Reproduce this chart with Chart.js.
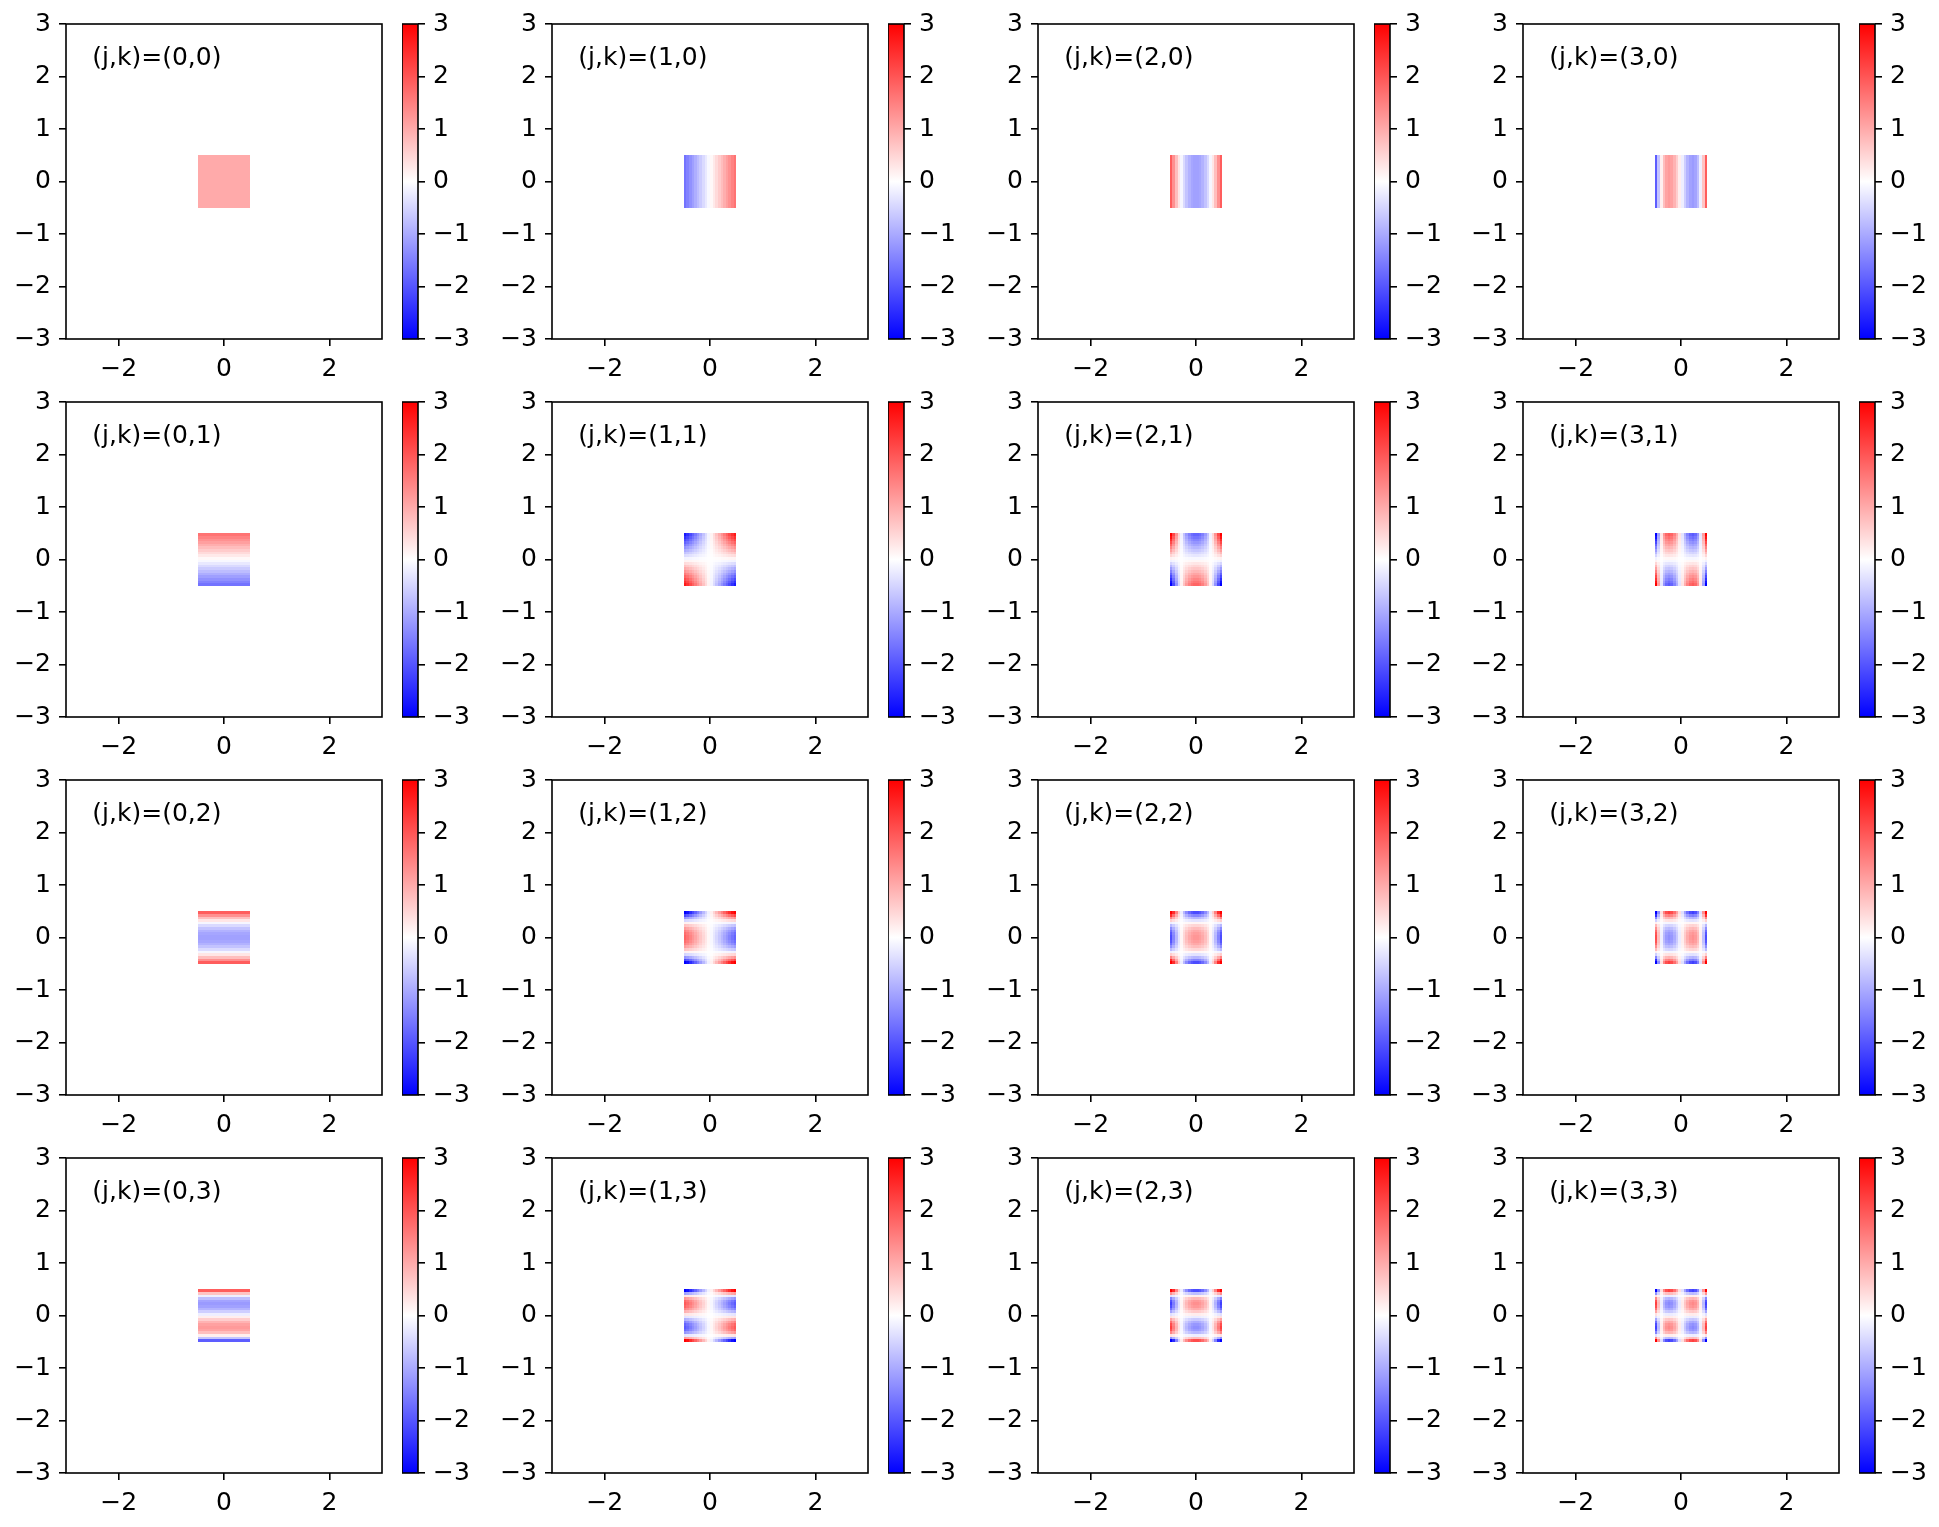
<!DOCTYPE html>
<html><head><meta charset="utf-8">
<script src="https://cdn.jsdelivr.net/npm/chart.js@4.4.0/dist/chart.umd.min.js"></script>
<style>
html,body{margin:0;padding:0;background:#fff;}
body{width:1939px;height:1527px;position:relative;overflow:hidden;}
canvas{position:absolute;}
</style></head><body>
<script>
// ---- data ----
const degreesJ = [0, 1, 2, 3];           // columns (x direction)
const degreesK = [0, 1, 2, 3];           // rows (y direction)
const samplePos = [-0.475,-0.425,-0.375,-0.325,-0.275,-0.225,-0.175,-0.125,-0.075,-0.025,
                    0.025, 0.075, 0.125, 0.175, 0.225, 0.275, 0.325, 0.375, 0.425, 0.475];
const cellHalf = 0.025;
const profile0 = [1,1,1,1,1,1,1,1,1,1,1,1,1,1,1,1,1,1,1,1];
const profile1 = [-1.645,-1.472,-1.299,-1.126,-0.953,-0.779,-0.606,-0.433,-0.260,-0.087,
                   0.087, 0.260, 0.433, 0.606, 0.779, 0.953, 1.126, 1.299, 1.472, 1.645];
const profile2 = [ 1.909, 1.305, 0.769, 0.299,-0.103,-0.439,-0.707,-0.908,-1.043,-1.110,
                  -1.110,-1.043,-0.908,-0.707,-0.439,-0.103, 0.299, 0.769, 1.305, 1.909];
const profile3 = [-1.901,-0.689, 0.186, 0.763, 1.082, 1.183, 1.106, 0.889, 0.573, 0.198,
                  -0.198,-0.573,-0.889,-1.106,-1.183,-1.082,-0.763,-0.186, 0.689, 1.901];
const profiles = [profile0, profile1, profile2, profile3];
const axisRange = [-3, 3];
const xTicks = [-2, 0, 2];
const yTicks = [-3, -2, -1, 0, 1, 2, 3];
const cbTicks = [-3, -2, -1, 0, 1, 2, 3];
const colorRange = [-3, 3];
const labelPos = [-2.5, 2.21];

// ---- style / layout ----
const FS = 25, LW = 1.6, TL = 7, TP = 8;
const FONT = "'DejaVu Sans', sans-serif";
const AX0 = 66.3, COLP = 485.6, AY0 = 24, ROWP = 377.9;
const AXW = 316, AXH = 315, CBOFF = 336, CBW = 16;
const YW = 66, PADT = 24, PADR = 12, XH = 55;

Chart.defaults.font.family = FONT;
Chart.defaults.font.size = FS;
Chart.defaults.color = '#000';

const fmt = v => (v < 0 ? '\u2212' + Math.abs(v) : '' + v);

function bwr(v) {
  let f = (v - colorRange[0]) / (colorRange[1] - colorRange[0]);
  f = Math.min(1, Math.max(0, f));
  if (f < 0.5) { const t = Math.round(2 * f * 255); return `rgb(${t},${t},255)`; }
  const t = Math.round(2 * (1 - f) * 255); return `rgb(255,${t},${t})`;
}

function makeCanvas(left, top, w, h) {
  const c = document.createElement('canvas');
  c.width = w; c.height = h;
  c.style.left = left + 'px'; c.style.top = top + 'px';
  c.style.width = w + 'px'; c.style.height = h + 'px';
  document.body.appendChild(c);
  return c;
}

const framePlugin = {
  id: 'frame',
  afterDraw(chart) {
    const a = chart.chartArea, ctx = chart.ctx;
    ctx.save(); ctx.strokeStyle = '#000'; ctx.lineWidth = LW;
    ctx.strokeRect(a.left, a.top, a.right - a.left, a.bottom - a.top);
    ctx.restore();
  }
};

function heatPlugin(j, k) {
  return {
    id: 'heat',
    beforeDatasetsDraw(chart) {
      const xs = chart.scales.x, ys = chart.scales.y, ctx = chart.ctx;
      const px = profiles[j], py = profiles[k];
      ctx.save();
      for (let i = 0; i < samplePos.length; i++) {
        const x0 = Math.round(xs.getPixelForValue(samplePos[i] - cellHalf));
        const x1 = Math.round(xs.getPixelForValue(samplePos[i] + cellHalf));
        for (let m = 0; m < samplePos.length; m++) {
          const y0 = Math.round(ys.getPixelForValue(samplePos[m] + cellHalf));
          const y1 = Math.round(ys.getPixelForValue(samplePos[m] - cellHalf));
          ctx.fillStyle = bwr(px[i] * py[m]);
          ctx.fillRect(x0, y0, x1 - x0, y1 - y0);
        }
      }
      ctx.restore();
    },
    afterDraw(chart) {
      const xs = chart.scales.x, ys = chart.scales.y, ctx = chart.ctx;
      ctx.save();
      ctx.fillStyle = '#000';
      ctx.font = FS + 'px ' + FONT;
      ctx.textAlign = 'left'; ctx.textBaseline = 'alphabetic';
      ctx.fillText('(j,k)=(' + j + ',' + k + ')', xs.getPixelForValue(labelPos[0]), ys.getPixelForValue(labelPos[1]));
      ctx.restore();
    }
  };
}

function axisOpts(ticksArr, fitFn) {
  return {
    type: 'linear', min: axisRange[0], max: axisRange[1],
    afterBuildTicks: s => { s.ticks = ticksArr.map(v => ({ value: v })); },
    afterFit: fitFn,
    ticks: { callback: fmt, padding: TP, color: '#000', autoSkip: false, maxRotation: 0, font: { size: FS, family: FONT } },
    grid: { drawOnChartArea: false, drawTicks: true, tickLength: TL, color: '#000', lineWidth: LW },
    border: { display: false }
  };
}

function gradFor(chart) {
  const a = chart.chartArea;
  if (!a) return null;
  const g = chart.ctx.createLinearGradient(0, a.bottom, 0, a.top);
  g.addColorStop(0, bwr(colorRange[0]));
  g.addColorStop(0.5, bwr((colorRange[0] + colorRange[1]) / 2));
  g.addColorStop(1, bwr(colorRange[1]));
  return g;
}

degreesK.forEach((k, r) => {
  degreesJ.forEach((j, c) => {
    const axL = AX0 + c * COLP, axT = AY0 + r * ROWP;
    const cl = Math.round(axL) - YW, ct = Math.round(axT) - PADT;
    const cv = makeCanvas(cl, ct, YW + AXW + PADR, PADT + AXH + XH);
    new Chart(cv, {
      type: 'scatter',
      data: { datasets: [{ data: [] }] },
      options: {
        responsive: false, animation: false, devicePixelRatio: 1,
        layout: { padding: { left: 0, top: PADT, right: PADR, bottom: 0 } },
        plugins: { legend: { display: false }, tooltip: { enabled: false } },
        scales: {
          x: axisOpts(xTicks, s => { s.height = XH; }),
          y: axisOpts(yTicks, s => { s.width = YW; })
        }
      },
      plugins: [heatPlugin(j, k), framePlugin]
    });

    const cbl = Math.round(axL + CBOFF);
    const cbv = makeCanvas(cbl, ct, CBW + 75, PADT + AXH + XH);
    const yOpt = axisOpts(cbTicks, s => { s.width = 75; });
    yOpt.position = 'right';
    new Chart(cbv, {
      type: 'bar',
      data: { labels: [''], datasets: [{ data: [[colorRange[0], colorRange[1]]], backgroundColor: ctx => gradFor(ctx.chart), borderWidth: 0, barPercentage: 1, categoryPercentage: 1 }] },
      options: {
        responsive: false, animation: false, devicePixelRatio: 1,
        layout: { padding: { left: 0, top: PADT, right: 0, bottom: XH } },
        plugins: { legend: { display: false }, tooltip: { enabled: false } },
        scales: { x: { display: false }, y: yOpt }
      },
      plugins: [framePlugin]
    });
  });
});
</script>
</body></html>
